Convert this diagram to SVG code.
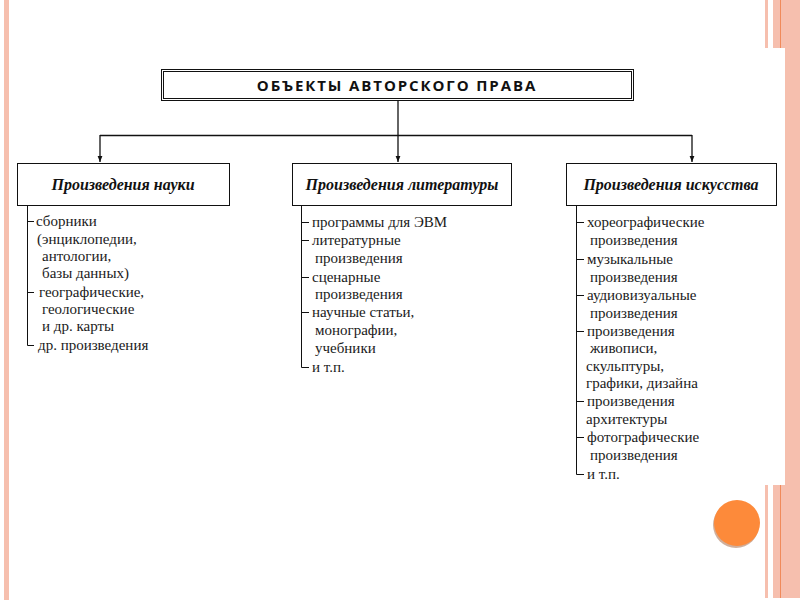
<svg xmlns="http://www.w3.org/2000/svg" width="800" height="600" viewBox="0 0 800 600">
<defs>
<style>
.deco{fill:#f6bfae}
.box{fill:#fff;stroke:#111;stroke-width:1}
.conn{stroke:#111;stroke-width:1.3;fill:none}
.list{stroke:#111;stroke-width:1;fill:none}
.h{font-family:"Liberation Serif",serif;font-weight:bold;font-style:italic;font-size:16px;fill:#111;text-anchor:middle}
.t{font-family:"Liberation Serif",serif;font-size:15px;fill:#1a1a1a}
.title{font-family:"Open Sans","Liberation Sans",sans-serif;font-weight:bold;font-size:15px;letter-spacing:1.9px;fill:#111;text-anchor:middle}
</style>
<marker id="arr" viewBox="0 0 10 10" refX="10" refY="5" markerWidth="5" markerHeight="5" orient="auto">
<path d="M0,1 L10,5 L0,9 z" fill="#111"/>
</marker>
</defs>
<rect width="800" height="600" fill="#fff"/>
<g id="decor">
<rect class="deco" x="4" y="0" width="5" height="600"/>
<rect class="deco" x="765" y="0" width="3" height="48"/>
<rect class="deco" x="773" y="0" width="27" height="48"/>
<rect x="780" y="0" width="1" height="48" fill="#f08a5a"/>
<rect class="deco" x="785" y="48" width="15" height="437"/>
<rect class="deco" x="765" y="485" width="3" height="113"/>
<rect class="deco" x="773" y="485" width="27" height="113"/>
<rect x="780" y="485" width="1" height="113" fill="#f08a5a"/>
<circle cx="736" cy="525" r="23" fill="#b07a5a" opacity="0.6"/>
<circle cx="737" cy="523" r="23" fill="#fd8a3a"/>
</g>
<g id="title">
<rect class="box" x="161.5" y="69.5" width="472" height="31"/>
<rect class="box" x="163.5" y="71.5" width="468" height="27"/>
<text class="title" x="397" y="90.5">ОБЪЕКТЫ АВТОРСКОГО ПРАВА</text>
</g>
<g id="connectors">
<line class="conn" x1="398" y1="101" x2="398" y2="162" marker-end="url(#arr)"/>
<line class="conn" x1="100" y1="135.5" x2="692" y2="135.5"/>
<line class="conn" x1="100" y1="135" x2="100" y2="162" marker-end="url(#arr)"/>
<line class="conn" x1="692" y1="135" x2="692" y2="162" marker-end="url(#arr)"/>
</g>
<g id="science">
<rect class="box" x="17.5" y="163.5" width="212" height="42"/>
<text class="h" x="123" y="190">Произведения науки</text>
<path class="list" d="M27.5,206 V345.5 H34 M27.5,221.5 H34 M27.5,292.5 H34"/>
<text class="t" x="36" y="226">сборники</text>
<text class="t" x="37" y="244">(энциклопедии,</text>
<text class="t" x="42" y="261">антологии,</text>
<text class="t" x="42" y="278">базы данных)</text>
<text class="t" x="39" y="297">географические,</text>
<text class="t" x="42" y="314">геологические</text>
<text class="t" x="42" y="331">и др. карты</text>
<text class="t" x="38" y="350">др. произведения</text>
</g>
<g id="literature">
<rect class="box" x="292.5" y="163.5" width="219" height="42"/>
<text class="h" x="402" y="190">Произведения литературы</text>
<path class="list" d="M301.5,206 V367.5 H309 M301.5,222.5 H309 M301.5,240.5 H309 M301.5,277.5 H309 M301.5,312.5 H309"/>
<text class="t" x="312" y="227">программы для ЭВМ</text>
<text class="t" x="312" y="245">литературные</text>
<text class="t" x="315" y="263">произведения</text>
<text class="t" x="312" y="282">сценарные</text>
<text class="t" x="315" y="299">произведения</text>
<text class="t" x="312" y="317">научные статьи,</text>
<text class="t" x="315" y="335">монографии,</text>
<text class="t" x="315" y="353">учебники</text>
<text class="t" x="312" y="372">и т.п.</text>
</g>
<g id="art">
<rect class="box" x="566.5" y="163.5" width="210" height="42"/>
<text class="h" x="671" y="190">Произведения искусства</text>
<path class="list" d="M576.5,206 V474.5 H584 M576.5,222.5 H584 M576.5,259.5 H584 M576.5,295.5 H584 M576.5,331.5 H584 M576.5,401.5 H584 M576.5,437.5 H584"/>
<text class="t" x="587" y="227">хореографические</text>
<text class="t" x="590" y="245">произведения</text>
<text class="t" x="587" y="264">музыкальные</text>
<text class="t" x="590" y="282">произведения</text>
<text class="t" x="587" y="300">аудиовизуальные</text>
<text class="t" x="590" y="318">произведения</text>
<text class="t" x="587" y="336">произведения</text>
<text class="t" x="590" y="353">живописи,</text>
<text class="t" x="586" y="371">скульптуры,</text>
<text class="t" x="586" y="388">графики, дизайна</text>
<text class="t" x="587" y="406">произведения</text>
<text class="t" x="586" y="424">архитектуры</text>
<text class="t" x="587" y="442">фотографические</text>
<text class="t" x="590" y="460">произведения</text>
<text class="t" x="587" y="479">и т.п.</text>
</g>
</svg>
